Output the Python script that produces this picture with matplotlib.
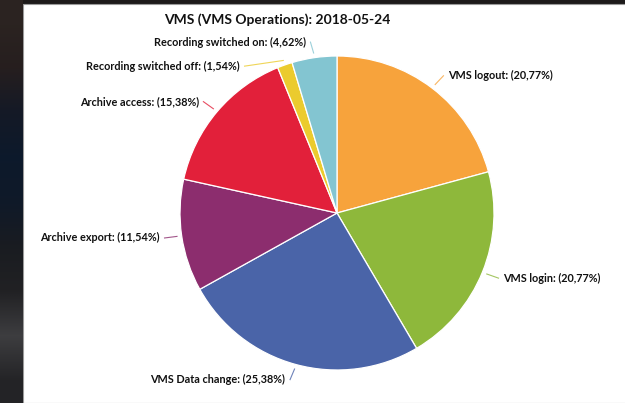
import matplotlib.pyplot as plt
import numpy as np
from matplotlib.patches import Rectangle

names = ['VMS logout', 'VMS login', 'VMS Data change', 'Archive export',
         'Archive access', 'Recording switched off', 'Recording switched on']
shares = [20.77, 20.77, 25.38, 11.54, 15.38, 1.54, 4.62]
colors = ['#F7A33C', '#8EB83B', '#4A64A8', '#8C2D6E', '#E2203A', '#EBCB2E', '#83C5D1']
title = 'VMS (VMS Operations): 2018-05-24'

W, H = 625, 403
cx, cy, rad = 337, 213, 157  # pie centre / radius in pixels

plt.rcParams['font.family'] = ['Lato', 'DejaVu Sans']
fig = plt.figure(figsize=(W / 100, H / 100), dpi=100)
fig.patch.set_facecolor('#1d1a1a')

# dark screen edge on the left
strip = fig.add_axes([0, 0, 23 / W, 1])
grad = np.array([[0.17, 0.14, 0.13], [0.15, 0.12, 0.12], [0.08, 0.10, 0.15],
                 [0.05, 0.10, 0.17], [0.06, 0.10, 0.16], [0.10, 0.11, 0.13],
                 [0.13, 0.13, 0.14], [0.24, 0.24, 0.25], [0.14, 0.14, 0.15]])
strip.imshow(grad[:, None, :], aspect='auto', interpolation='bilinear')
strip.axis('off')
fig.add_artist(Rectangle((23 / W, 0), 1, (H - 4) / H, transform=fig.transFigure,
                         facecolor='white', edgecolor='#9a9a9a', lw=0.8, zorder=-5))

ax = fig.add_axes([0, 0, 1, 1])
ax.patch.set_visible(False)
wedges, _ = ax.pie(shares, colors=colors, startangle=90, counterclock=False,
                   wedgeprops=dict(edgecolor='white', linewidth=0.9))
ax.set_aspect('auto')
ax.set_xlim(-cx / rad, (W - cx) / rad)
ax.set_ylim(-(H - cy) / rad, cy / rad)
ax.axis('off')

ax.text((277 - cx) / rad, (cy - 20) / rad, title, ha='center', va='center',
        fontsize=10, fontweight='bold', color='#111111')

# data labels, highcharts style: on a ring, pushed apart on each side
R, gap, step = 1.1, 0.04, 0.153
mids = []
for w in wedges:
    a = np.deg2rad((w.theta1 + w.theta2) / 2)
    mids.append(a)
ys = [R * np.sin(a) for a in mids]
sides = [1 if np.cos(a) >= 0 else -1 for a in mids]
for s in (1, -1):
    idx = sorted([i for i in range(len(mids)) if sides[i] == s], key=lambda i: -ys[i])
    prev = None
    for i in idx:
        if prev is not None and ys[i] > prev - step:
            ys[i] = prev - step
        prev = ys[i]

for i, a in enumerate(mids):
    s = sides[i]
    y = ys[i]
    x = s * np.sqrt(max(R ** 2 - y ** 2, 0))
    txt = f'{names[i]}: ({shares[i]:.2f}%)'.replace('.', ',')
    ax.text(x + s * gap, y, txt, ha='left' if s > 0 else 'right', va='center',
            fontsize=7.8, fontweight='bold', color='#111111')
    ex, ey = 1.03 * np.cos(a), 1.03 * np.sin(a)
    ax.plot([ex, x + s * 0.01], [ey, y], color=colors[i], lw=0.8, alpha=0.8)

fig.savefig('out.png', dpi=100, facecolor=fig.get_facecolor())
